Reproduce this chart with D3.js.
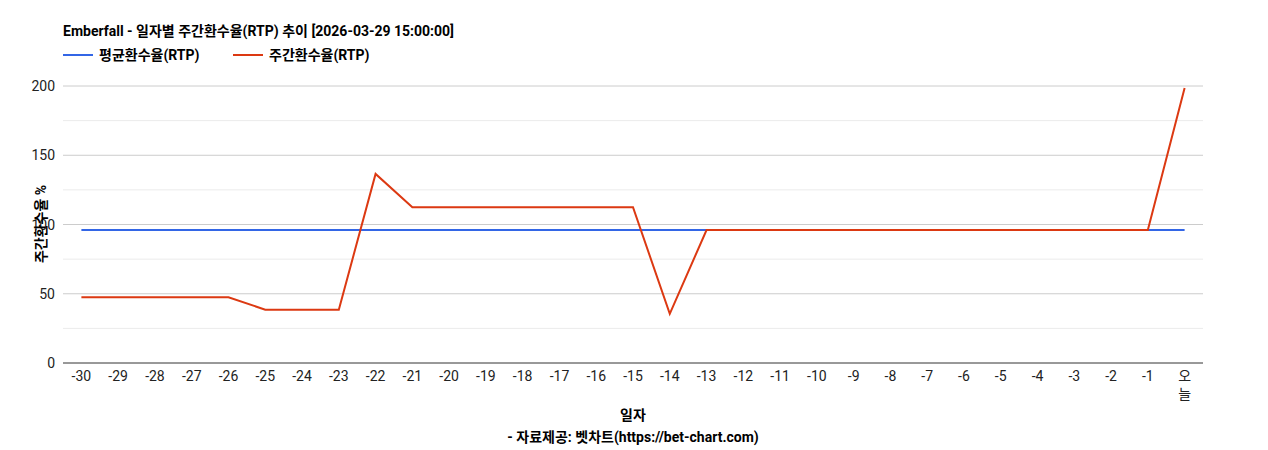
<!DOCTYPE html>
<html><head><meta charset="utf-8">
<script src="https://cdn.jsdelivr.net/npm/d3@7"></script>
<style>body{margin:0;background:#fff;font-family:Roboto,"Noto Sans CJK KR",sans-serif}</style>
</head><body><svg id="c" width="1268" height="450"></svg>
<script>
const categories = ["-30","-29","-28","-27","-26","-25","-24","-23","-22","-21","-20","-19","-18","-17","-16","-15","-14","-13","-12","-11","-10","-9","-8","-7","-6","-5","-4","-3","-2","-1","오늘"];
const weeklyRTP = [47.5,47.5,47.5,47.5,47.5,38.5,38.5,38.5,136.5,112.5,112.5,112.5,112.5,112.5,112.5,112.5,35.5,96,96,96,96,96,96,96,96,96,96,96,96,96,198.5];
const avgRTP = categories.map(()=>96);
const yTicks = [0,50,100,150,200];
const minorTicks = [25,75,125,175];

const svg = d3.select("#c");
const F = 'Roboto,"Noto Sans CJK KR",sans-serif';
const x = d3.scaleBand().domain(categories).range([63,1203]);
const y = d3.scaleLinear().domain([0,200]).range([363,86]);
const cx = d => x(d)+x.bandwidth()/2;

svg.selectAll(".mg").data(minorTicks).enter().append("line")
 .attr("x1",63).attr("x2",1203).attr("y1",y).attr("y2",y).attr("stroke","#ebebeb");
svg.selectAll(".g").data(yTicks.slice(1)).enter().append("line")
 .attr("x1",63).attr("x2",1203).attr("y1",y).attr("y2",y).attr("stroke","#cccccc");
svg.append("line").attr("x1",63).attr("x2",1203).attr("y1",y(0)).attr("y2",y(0)).attr("stroke","#333");
svg.selectAll(".yt").data(yTicks).enter().append("text")
 .attr("x",55).attr("y",d=>y(d)+5).attr("text-anchor","end").attr("font-size",14).attr("font-family",F).attr("fill","#222").text(d=>d);

categories.forEach(c=>{
  if(c==="오늘"){
    svg.append("text").attr("x",cx(c)).attr("y",381).attr("text-anchor","middle").attr("font-size",14).attr("font-family",F).attr("fill","#222").text("오");
    svg.append("text").attr("x",cx(c)).attr("y",399).attr("text-anchor","middle").attr("font-size",14).attr("font-family",F).attr("fill","#222").text("늘");
  } else svg.append("text").attr("x",cx(c)).attr("y",381).attr("text-anchor","middle").attr("font-size",14).attr("font-family",F).attr("fill","#222").text(c);
});

const line = d3.line().x((d,i)=>cx(categories[i])).y(d=>y(d));
svg.append("path").datum(avgRTP).attr("d",line).attr("fill","none").attr("stroke","#3366e6").attr("stroke-width",2);
svg.append("path").datum(weeklyRTP).attr("d",line).attr("fill","none").attr("stroke","#dc3912").attr("stroke-width",2);

svg.append("text").attr("x",63).attr("y",36).attr("font-size",14).attr("font-weight","bold").attr("font-family",F).attr("fill","#000").text("Emberfall - 일자별 주간환수율(RTP) 추이 [2026-03-29 15:00:00]");
svg.append("line").attr("x1",63).attr("x2",93).attr("y1",55).attr("y2",55).attr("stroke","#3366e6").attr("stroke-width",2);
svg.append("text").attr("x",99).attr("y",60).attr("font-size",14).attr("font-weight","bold").attr("font-family",F).text("평균환수율(RTP)");
svg.append("line").attr("x1",233).attr("x2",263).attr("y1",55).attr("y2",55).attr("stroke","#dc3912").attr("stroke-width",2);
svg.append("text").attr("x",269).attr("y",60).attr("font-size",14).attr("font-weight","bold").attr("font-family",F).text("주간환수율(RTP)");

svg.append("text").attr("x",633).attr("y",420).attr("text-anchor","middle").attr("font-size",14).attr("font-weight","bold").attr("font-family",F).text("일자");
svg.append("text").attr("x",633).attr("y",442).attr("text-anchor","middle").attr("font-size",14).attr("font-weight","bold").attr("font-family",F).text("- 자료제공: 벳차트(https://bet-chart.com)");
svg.append("text").attr("transform","translate(46,224) rotate(-90)").attr("text-anchor","middle").attr("font-size",14).attr("font-weight","bold").attr("font-family",F).text("주간환수율 %");
</script></body></html>
